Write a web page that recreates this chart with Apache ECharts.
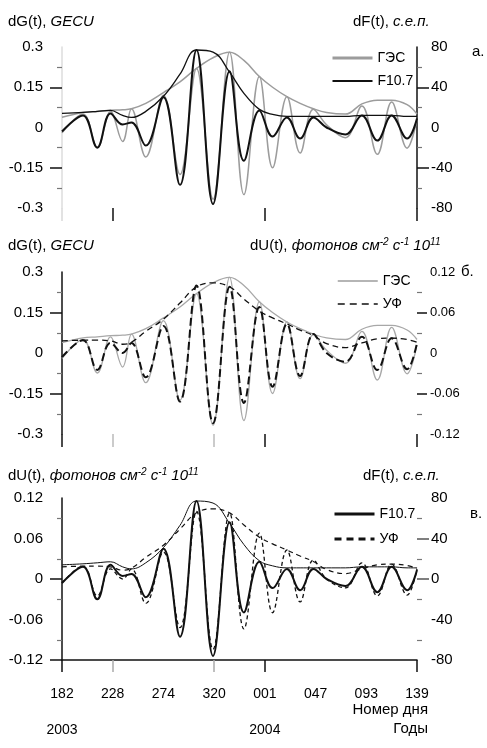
<!DOCTYPE html>
<html>
<head>
<meta charset="utf-8">
<script src="https://cdn.jsdelivr.net/npm/echarts@6/dist/echarts.min.js"></script>
<style>
  html, body { margin: 0; padding: 0; background: #fff; }
  #chart { width: 487px; height: 748px; }
</style>
</head>
<body>
<div id="chart"></div>
<script>
// дни от 182-го дня 2003 г. (0 .. 322)
const days = [0, 19, 32, 44, 55, 63, 76, 92, 107, 122, 137, 152, 165, 179, 191, 204, 216, 228, 240, 257, 272, 286, 299, 313, 322]
const tickLabels = ['182', '228', '274', '320', '001', '047', '093', '139']
const yearTicks = [0, 184]
const yearLabels = ['2003', '2004']

// ГЭС, GECU
const gecOsc = [-0.02, 0.05, -0.074, 0.06, -0.052, 0.07, -0.11, 0.12, -0.175, 0.22, -0.267, 0.28, -0.25, 0.19, -0.15, 0.115, -0.095, 0.068, 0.01, -0.038, 0.08, -0.1, 0.095, -0.077, 0.03]
const gecEnv = [0.038, 0.056, 0.06, 0.064, 0.066, 0.07, 0.09, 0.13, 0.17, 0.22, 0.26, 0.28, 0.25, 0.19, 0.15, 0.115, 0.09, 0.07, 0.056, 0.05, 0.088, 0.102, 0.102, 0.085, 0.05]
// F10.7, с.е.п.
const f107Osc = [-4, 12, -20, 14, 3, 5, -18, 30, -57, 77, -76, 56, -33, 17, -9, 10, -11, 10, 0, -7, 12, -13, 12, -11, 9]
const f107Env = [14, 15, 16, 17, 12, 10, 16, 31, 53, 77, 75, 55, 34, 18, 13, 11, 11, 11, 11, 11, 12, 12, 12, 11, 11]
// УФ, фотонов см-2 с-1 10^11
const ufOsc = [-0.006, 0.019, -0.025, 0.015, 0.0, 0.015, -0.036, 0.04, -0.072, 0.1, -0.104, 0.098, -0.074, 0.068, -0.05, 0.043, -0.034, 0.028, 0.0, -0.013, 0.024, -0.025, 0.022, -0.024, 0.015]
const ufEnv = [0.018, 0.019, 0.019, 0.018, 0.013, 0.016, 0.032, 0.05, 0.074, 0.098, 0.104, 0.098, 0.08, 0.062, 0.052, 0.043, 0.034, 0.026, 0.014, 0.008, 0.015, 0.021, 0.022, 0.02, 0.016]

const FONT = '"Liberation Sans", Arial, sans-serif'
const GRAY = '#9c9c9c'
const BLACK = '#111'

const pairs = (vals) => days.map((d, i) => [d, vals[i]])

const chart = echarts.init(document.getElementById('chart'))

// все оси X снизу и не на нуле
const xAxisFor = (grid, extra) => Object.assign({
  type: 'value', gridIndex: grid, position: 'bottom', min: 0, max: 322, interval: 46,
  splitLine: { show: false },
  axisLine: { show: false, onZero: false },
  axisLabel: { show: false },
  axisTick: { show: false }
}, extra)

const yAxisFor = (grid, pos, min, max, step, extra) => Object.assign({
  type: 'value', gridIndex: grid, position: pos, min: min, max: max, interval: step,
  splitLine: { show: false },
  axisLine: { show: true, onZero: false, lineStyle: { color: BLACK, width: 1.5 } },
  axisTick: { show: true, length: 12, lineStyle: { color: BLACK, width: 1.5 } },
  minorTick: { show: true, splitNumber: 2, length: 5, lineStyle: { color: '#777', width: 1.2 } },
  axisLabel: { fontSize: 15, color: '#000', margin: pos === 'left' ? 19 : 14 }
}, extra)

const line = (name, x, y, vals, color, width, type) => ({
  name: name, type: 'line', xAxisIndex: x, yAxisIndex: y,
  data: pairs(vals), smooth: 0.4, symbol: 'none',
  lineStyle: { color: color, width: width, type: type || 'solid' },
  itemStyle: { color: color }
})

const legendFor = (left, top, gap, items) => ({
  orient: 'vertical', left: left, top: top, itemGap: gap,
  itemWidth: 40, itemHeight: 14,
  itemStyle: { opacity: 0 },
  textStyle: { fontSize: 14, color: '#000', fontFamily: FONT },
  data: items
})

const txt = (x, y, text, rich, align) => ({
  type: 'text', x: x, y: y,
  style: { text: text, rich: rich, fill: '#000', font: '15px ' + FONT, align: align || 'left', verticalAlign: 'middle' }
})

const richT = {
  n: { fontSize: 15, fontFamily: FONT, fill: '#000', lineHeight: 18 },
  i: { fontSize: 15, fontFamily: FONT, fontStyle: 'italic', fill: '#000', lineHeight: 18 },
  s: { fontSize: 10, fontFamily: FONT, fontStyle: 'italic', fill: '#000', verticalAlign: 'top', lineHeight: 18 }
}
const dG = '{n|dG(t), }{i|GECU}'
const dF = '{n|dF(t), }{i|с.е.п.}'
const dU = '{n|dU(t), }{i|фотонов см}{s|-2}{i| с}{s|-1}{i| 10}{s|11}'

chart.setOption({
  animation: false,
  backgroundColor: '#fff',
  textStyle: { fontFamily: FONT },
  grid: [
    { left: 62, top: 47, width: 355, height: 161, outerBoundsMode: 'none' },
    { left: 62, top: 272, width: 355, height: 162, outerBoundsMode: 'none' },
    { left: 62, top: 498, width: 355, height: 162, outerBoundsMode: 'none' }
  ],
  xAxis: [
    // а.
    xAxisFor(0, { axisTick: { show: true, customValues: [0], length: 13, lineStyle: { color: '#d8d8d8', width: 1.5 } } }),
    xAxisFor(0, { axisTick: { show: true, customValues: [46, 184, 322], length: 13, lineStyle: { color: BLACK, width: 1.5 } } }),
    // б.
    xAxisFor(1, { axisTick: { show: true, customValues: [46, 138], length: 13, lineStyle: { color: '#bbb', width: 1.5 } } }),
    xAxisFor(1, { axisTick: { show: true, customValues: [0, 184, 322], length: 13, lineStyle: { color: BLACK, width: 1.5 } } }),
    // в.
    xAxisFor(2, {
      axisLine: { show: true, onZero: false, lineStyle: { color: BLACK, width: 1.5 } },
      axisTick: { show: true, customValues: [46, 138], length: 12, lineStyle: { color: '#aaa', width: 1.5 } },
      axisLabel: { show: true, fontSize: 14, color: '#000', margin: 27, formatter: (v) => tickLabels[Math.round(v / 46)] }
    }),
    xAxisFor(2, { axisTick: { show: true, customValues: [0, 184, 322], length: 12, lineStyle: { color: BLACK, width: 1.5 } } }),
    xAxisFor(2, {
      axisLabel: { show: true, customValues: yearTicks, fontSize: 14, color: '#000', margin: 63, formatter: (v) => yearLabels[yearTicks.indexOf(v)] }
    })
  ],
  yAxis: [
    yAxisFor(0, 'left', -0.3, 0.3, 0.15, {
      axisLine: { show: true, onZero: false, lineStyle: { color: '#dcdcdc', width: 1.5 } },
      axisTick: { show: true, customValues: [-0.15, 0.15], length: 12, lineStyle: { color: BLACK, width: 1.5 } }
    }),
    yAxisFor(0, 'right', -80, 80, 40, {
      axisTick: { show: true, customValues: [-40, 40], length: 12, lineStyle: { color: BLACK, width: 1.5 } }
    }),
    yAxisFor(1, 'left', -0.3, 0.3, 0.15, {
      axisTick: { show: true, customValues: [-0.15, 0.15], length: 12, lineStyle: { color: BLACK, width: 1.5 } }
    }),
    yAxisFor(1, 'right', -0.12, 0.12, 0.06, {
      axisLine: { show: false, onZero: false },
      axisLabel: { fontSize: 13, color: '#000', margin: 13 },
      axisTick: { show: true, customValues: [-0.06, 0.06], length: 10, lineStyle: { color: BLACK, width: 1.5 } }
    }),
    yAxisFor(2, 'left', -0.12, 0.12, 0.06, {
      axisTick: { show: true, customValues: [-0.12, 0], length: 12, lineStyle: { color: BLACK, width: 1.5 } }
    }),
    yAxisFor(2, 'right', -80, 80, 40, {
      axisLine: { show: false, onZero: false },
      axisTick: { show: true, customValues: [0, 40], length: 12, lineStyle: { color: '#555', width: 1.5 } }
    })
  ],
  legend: [
    legendFor(326, 46, 9, [
      { name: 'ГЭС', lineStyle: { color: GRAY, width: 3 } },
      { name: 'F10.7', lineStyle: { color: BLACK, width: 1.8 } }
    ]),
    legendFor(332, 269, 9, [
      { name: 'ГЭС', lineStyle: { color: GRAY, width: 1.5, type: 'solid' } },
      { name: 'УФ', lineStyle: { color: BLACK, width: 1.5, type: [7, 5] } }
    ]),
    legendFor(328, 502, 11, [
      { name: 'F10.7', lineStyle: { color: BLACK, width: 3, type: 'solid' } },
      { name: 'УФ', lineStyle: { color: BLACK, width: 3, type: [7, 5] } }
    ])
  ],
  series: [
    // а. ГЭС и F10.7
    line('ГЭС огиб.', 0, 0, gecEnv, GRAY, 1.5),
    line('ГЭС', 0, 0, gecOsc, GRAY, 1.5),
    line('F10.7 огиб.', 0, 1, f107Env, BLACK, 1.3),
    line('F10.7', 0, 1, f107Osc, BLACK, 2),
    // б. ГЭС и УФ
    line('ГЭС огиб. б', 2, 2, gecEnv, '#a8a8a8', 1.3),
    line('ГЭС б', 2, 2, gecOsc, '#a8a8a8', 1.3),
    line('УФ огиб.', 2, 3, ufEnv, BLACK, 1.3, [6, 4]),
    line('УФ', 2, 3, ufOsc, BLACK, 2, [8, 4]),
    // в. F10.7 и УФ
    line('F10.7 огиб. в', 4, 5, f107Env, BLACK, 1),
    line('УФ огиб. в', 4, 4, ufEnv, BLACK, 1.2, [5, 4]),
    line('УФ в', 4, 4, ufOsc, BLACK, 1.3, [4, 3]),
    line('F10.7 в', 4, 5, f107Osc, BLACK, 2)
  ],
  graphic: [
    txt(8, 22, dG, richT),
    txt(353, 22, dF, richT),
    txt(472, 52, 'а.', null),
    txt(8, 246, dG, richT),
    txt(250, 246, dU, richT),
    txt(461, 272, 'б.', null),
    txt(8, 476, dU, richT),
    txt(363, 476, dF, richT),
    txt(470, 514, 'в.', null),
    txt(428, 710, 'Номер дня', null, 'right'),
    txt(428, 729, 'Годы', null, 'right')
  ]
})
</script>
</body>
</html>
